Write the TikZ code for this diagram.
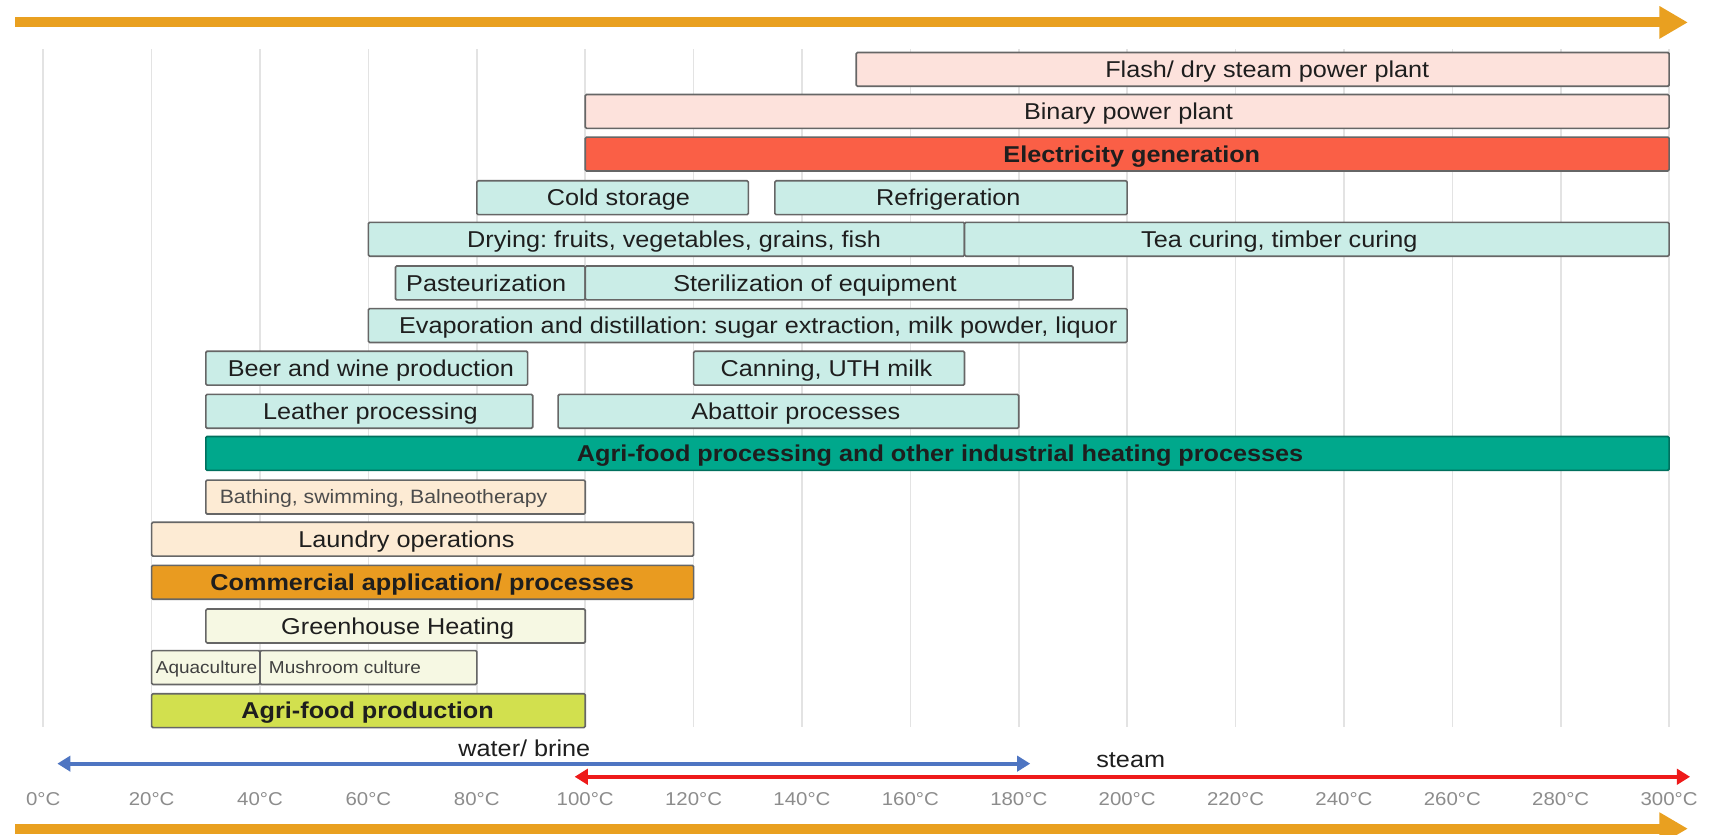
\documentclass[tikz,border=0pt]{standalone}
\usepackage{fontspec}
\setmainfont[FakeStretch=1.1]{Liberation Sans}
\usetikzlibrary{arrows.meta}
\definecolor{pinkb}{HTML}{FDE2DC}
\definecolor{elecc}{HTML}{FA5F46}
\definecolor{tealL}{HTML}{CAEDE7}
\definecolor{tealD}{HTML}{00A88C}
\definecolor{tealB}{HTML}{00705E}
\definecolor{peach}{HTML}{FDEBD4}
\definecolor{orangeC}{HTML}{E99B20}
\definecolor{greenL}{HTML}{F6F8E3}
\definecolor{greenA}{HTML}{D2E04E}
\definecolor{gridc}{HTML}{E3E3E3}
\definecolor{arrowO}{HTML}{E9A020}
\definecolor{blueA}{HTML}{4E75C2}
\definecolor{redA}{HTML}{EE1A1A}
\definecolor{bordc}{HTML}{666666}
\definecolor{txtc}{HTML}{1E1E1E}
\definecolor{tempc}{HTML}{8C8C8C}
\frenchspacing
\begin{document}
\frenchspacing
\begin{tikzpicture}[x=1pt,y=-1pt,
  bx/.style={draw=bordc, line width=1.5pt, rounded corners=1.2pt, inner sep=0pt, outer sep=0pt, anchor=west, minimum height=31pt},
  txt/.style={inner sep=0pt, text=txtc, font=\fontsize{21}{25}\selectfont, anchor=base, yshift=-7.5pt},
  btxt/.style={txt, font=\fontsize{21}{25}\selectfont\bfseries},
  stxt/.style={txt, font=\fontsize{17.7}{21}\selectfont, text=black!70, anchor=base west, yshift=1.2pt},
  xstxt/.style={txt, font=\fontsize{15.8}{19}\selectfont, text=black!75, anchor=base west, yshift=1.8pt},
  tlab/.style={inner sep=0pt, text=tempc, font=\fontsize{17}{20}\selectfont, anchor=base, yshift=-6.1pt},
  bigarrow/.style={draw=arrowO, line width=9pt, -{Triangle[length=26pt,width=28pt]}},
  medarrow/.style={line width=3.5pt, {Triangle[length=12pt,width=14pt]}-{Triangle[length=12pt,width=14pt]}}
]
\useasboundingbox (0,0) rectangle (1568,764);
\clip (0,0) rectangle (1568,764);
\fill[white] (0,0) rectangle (1568,764);

% grid lines
\foreach \T in {0,20,...,300}{
  \draw[gridc, line width=1.5pt] ({39.6+4.9607*\T},45) -- ({39.6+4.9607*\T},665);
}

% boxes
\node[bx, fill=pinkb, minimum width=744.1pt] (flash) at (783.7,63.5) {};
\node[bx, fill=pinkb, minimum width=992.1pt] (binary) at (535.7,102) {};
\node[bx, fill=elecc, minimum width=992.1pt] (elec) at (535.7,141) {};
\node[bx, fill=tealL, minimum width=248.5pt] (cold) at (436.5,181) {};
\node[bx, fill=tealL, minimum width=322.4pt] (refrig) at (709.3,181) {};
\node[bx, fill=tealL, minimum width=545.7pt] (drying) at (337.2,219) {};
\node[bx, fill=tealL, minimum width=644.9pt] (tea) at (882.9,219) {};
\node[bx, fill=tealL, minimum width=173.7pt] (past) at (362.0,259) {};
\node[bx, fill=tealL, minimum width=446.4pt] (steril) at (535.7,259) {};
\node[bx, fill=tealL, minimum width=694.5pt] (evap) at (337.2,298) {};
\node[bx, fill=tealL, minimum width=294.6pt] (beer) at (188.4,337) {};
\node[bx, fill=tealL, minimum width=248pt] (canning) at (634.9,337) {};
\node[bx, fill=tealL, minimum width=299.2pt] (leather) at (188.4,376.5) {};
\node[bx, fill=tealL, minimum width=421.6pt] (abattoir) at (510.9,376.5) {};
\node[bx, fill=tealD, draw=tealB, minimum width=1339.4pt] (agriproc) at (188.4,415) {};
\node[bx, fill=peach, minimum width=347.3pt] (bathing) at (188.4,455) {};
\node[bx, fill=peach, minimum width=496.1pt] (laundry) at (138.8,493.5) {};
\node[bx, fill=orangeC, minimum width=496.1pt] (commercial) at (138.8,533) {};
\node[bx, fill=greenL, minimum width=347.3pt] (greenhouse) at (188.4,573) {};
\node[bx, fill=greenL, minimum width=99.2pt] (aqua) at (138.8,611) {};
\node[bx, fill=greenL, minimum width=198.5pt] (mush) at (238.0,611) {};
\node[bx, fill=greenA, minimum width=396.9pt] (agriprod) at (138.8,650.5) {};

% texts
\node[txt] (flash-t) at (1160,63.5) {Flash/ dry steam power plant};
\node[txt] (binary-t) at (1033,102) {Binary power plant};
\node[btxt] (elec-t) at (1036,141) {Electricity generation};
\node[txt] (cold-t) at (566,181) {Cold storage};
\node[txt] (refrig-t) at (868,181) {Refrigeration};
\node[txt] (drying-t) at (617,219) {Drying: fruits, vegetables, grains, fish};
\node[txt] (tea-t) at (1171,219) {Tea curing, timber curing};
\node[txt] (past-t) at (445,259) {Pasteurization};
\node[txt] (steril-t) at (746,259) {Sterilization of equipment};
\node[txt] (evap-t) at (694,298) {Evaporation and distillation: sugar extraction, milk powder, liquor};
\node[txt] (beer-t) at (339.5,337) {Beer and wine production};
\node[txt] (canning-t) at (756.5,337) {Canning, UTH milk};
\node[txt] (leather-t) at (339,376.5) {Leather processing};
\node[txt] (abattoir-t) at (728.5,376.5) {Abattoir processes};
\node[btxt] (agriproc-t) at (860.5,415) {Agri-food processing and other industrial heating processes};
\node[stxt] (bathing-t) at (201,455) {Bathing, swimming, Balneotherapy};
\node[txt] (laundry-t) at (372,493.5) {Laundry operations};
\node[btxt] (commercial-t) at (386.5,533) {Commercial application/ processes};
\node[txt] (greenhouse-t) at (364,573) {Greenhouse Heating};
\node[xstxt] (aqua-t) at (142.5,611) {Aquaculture};
\node[xstxt] (mush-t) at (246,611) {Mushroom culture};
\node[btxt] (agriprod-t) at (336.5,650.5) {Agri-food production};

% temperature labels
\foreach \T in {0,20,...,300}{
  \node[tlab] (temp\T) at ({39.6+4.9607*\T},731) {\T°C};
}

% water / steam arrows
\coordinate (wL) at (52.5,699);
\coordinate (wR) at (943,699);
\coordinate (sL) at (526,711);
\coordinate (sR) at (1547,711);
\draw[medarrow, draw=blueA, fill=blueA] (wL) -- (wR);
\draw[medarrow, draw=redA, fill=redA] (sL) -- (sR);
\node[txt] (water-t) at (480,685) {water/ brine};
\node[txt] (steam-t) at (1035,695) {steam};

% big orange arrows
\coordinate (tL) at (14,20.5);
\coordinate (tR) at (1545,20.5);
\coordinate (bL) at (14,758.5);
\coordinate (bR) at (1545,758.5);
\draw[bigarrow] (tL) -- (tR);
\draw[bigarrow] (bL) -- (bR);
\end{tikzpicture}
\end{document}
